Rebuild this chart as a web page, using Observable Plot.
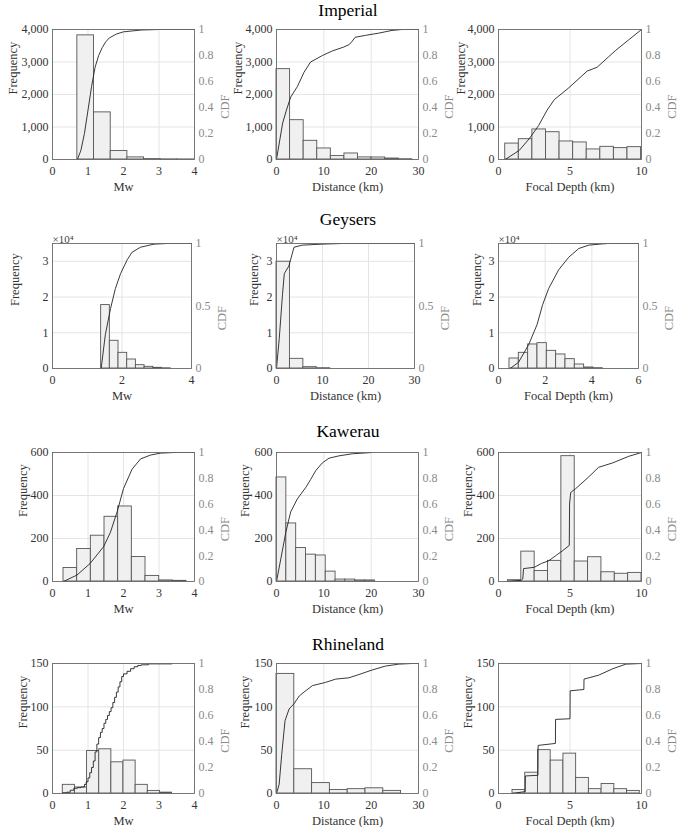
<!DOCTYPE html>
<html><head><meta charset="utf-8">
<script src="https://cdn.jsdelivr.net/npm/d3@7"></script>
<script src="https://cdn.jsdelivr.net/npm/@observablehq/plot@0.6"></script>
<style>
body{margin:0;background:#fff;font-family:'Liberation Serif',serif}
#fig{position:relative;width:685px;height:827px;overflow:hidden}
.ttl{position:absolute;left:0;width:696px;text-align:center;font-size:17.5px;line-height:1;color:#000}
#fig svg{position:absolute;overflow:visible}
</style></head><body><div id="fig"></div><script>
// ---- ticks ----
const mwTicks = [0,1,2,3,4];
const mwTicksG = [0,2,4];
const distTicks = [0,10,20,30];
const depthTicks = [0,5,10];
const depthTicksG = [0,2,4,6];
const freqTicksImp = [0,1000,2000,3000,4000];
const freqTicksGey = [0,10000,20000,30000];
const freqTicksKaw = [0,200,400,600];
const freqTicksRhi = [0,50,100,150];
const cdfTicks = [0,0.2,0.4,0.6,0.8,1];
const cdfTicksG = [0,0.5,1];
const titles = ["Imperial","Geysers","Kawerau","Rhineland"];

// ---- Imperial ----
const impMwEdges = [0.70,1.17,1.64,2.11,2.58,3.05,3.52,3.99];
const impMwCounts = [3820,1450,260,65,12,4,2];
const impMwCdfX = [0.70,0.80,0.90,1.00,1.10,1.20,1.30,1.40,1.50,1.60,1.80,2.00,2.50,3.00,4.00];
const impMwCdfY = [0,0.07,0.20,0.38,0.56,0.71,0.80,0.86,0.905,0.935,0.965,0.982,0.996,1,1];
const impDistEdges = [0,2.87,5.74,8.61,11.48,14.35,17.22,20.09,22.96,25.83,28.7];
const impDistCounts = [2780,1210,575,340,105,185,65,62,30,8];
const impDistCdfX = [0,1.3,2.1,3.0,4.4,5.8,7.2,9.7,11.8,14.2,15.4,16.0,16.6,18.8,21.6,24.4,26.5,30];
const impDistCdfY = [0,0.28,0.38,0.48,0.56,0.67,0.75,0.80,0.835,0.865,0.885,0.91,0.94,0.955,0.972,0.993,1,1];
const impDepthEdges = [0.47,1.42,2.37,3.32,4.27,5.22,6.17,7.12,8.07,9.02,9.97];
const impDepthCounts = [490,625,925,840,555,525,310,390,350,380];
const impDepthCdfX = [0.47,1.45,2.15,2.8,3.4,3.9,4.9,5.7,6.2,6.9,7.7,8.2,9.1,10];
const impDepthCdfY = [0,0.07,0.16,0.26,0.38,0.46,0.55,0.63,0.68,0.71,0.79,0.84,0.92,1];

// ---- Geysers ----
const geyMwEdges = [1.40,1.65,1.90,2.15,2.40,2.65,2.90,3.15,3.40];
const geyMwCounts = [17760,7760,4390,2520,930,470,190,60];
const geyMwCdfX = [1.40,1.52,1.67,1.81,1.96,2.15,2.29,2.53,2.92,3.3,4];
const geyMwCdfY = [0,0.27,0.48,0.64,0.76,0.87,0.93,0.97,0.995,1,1];
const geyDistEdges = [0,2.92,5.84,8.76,11.68];
const geyDistCounts = [29900,2710,370,80];
const geyDistCdfX = [0,0.6,1.3,1.7,2.7,3.8,5.6,9.9,14.3,30];
const geyDistCdfY = [0,0.24,0.59,0.76,0.82,0.97,0.987,0.995,1,1];
const geyDepthEdges = [0.47,0.87,1.27,1.67,2.07,2.47,2.87,3.27,3.67,4.07,4.47];
const geyDepthCounts = [2800,4390,6730,7100,4950,3930,2620,1120,280,90];
const geyDepthCdfX = [0.5,0.86,1.29,1.65,1.89,2.15,2.58,3.01,3.44,3.87,4.45,4.7,6];
const geyDepthCdfY = [0,0.05,0.19,0.35,0.51,0.64,0.79,0.89,0.96,0.987,0.997,1,1];

// ---- Kawerau ----
const kawMwEdges = [0.31,0.695,1.08,1.465,1.85,2.235,2.62,3.005,3.39,3.775];
const kawMwCounts = [63,151,213,301,349,114,26,5,3];
const kawMwCdfX = [0.31,0.69,1.06,1.44,1.63,1.82,2.0,2.24,2.48,2.76,3.04,3.42,4];
const kawMwCdfY = [0,0.05,0.14,0.27,0.38,0.54,0.72,0.87,0.95,0.98,0.995,1,1];
const kawDistEdges = [0,2.08,4.16,6.24,8.32,10.4,12.48,14.56,16.64,18.72,20.8];
const kawDistCounts = [484,270,156,125,121,46,9,9,5,5];
const kawDistCdfX = [0,0.91,1.96,3.0,4.4,6.2,7.2,8.3,9.7,11.1,13.2,16,20.2];
const kawDistCdfY = [0,0.175,0.38,0.54,0.64,0.73,0.79,0.86,0.92,0.956,0.974,0.99,1];
const kawDepthEdges = [0.66,1.594,2.528,3.462,4.396,5.33,6.264,7.198,8.132,9.066,10];
const kawDepthCounts = [6,139,49,96,583,93,113,43,36,40];
const kawDepthCdfX = [0.66,1.6,1.7,1.75,2.5,3.0,3.5,4.0,4.5,4.95,4.97,5.05,5.4,6.3,7.0,8.0,9.1,10];
const kawDepthCdfY = [0,0.01,0.02,0.1,0.11,0.14,0.16,0.2,0.24,0.28,0.6,0.69,0.72,0.81,0.885,0.92,0.97,1];

// ---- Rhineland ----
const rhiMwEdges = [0.29,0.632,0.974,1.316,1.658,2.0,2.342,2.684,3.026,3.368];
const rhiMwCounts = [10,7,49,51,36,38,10,3,1];
const rhiMwCdfX = [0.29,0.4,0.5,0.6,0.7,0.8,0.9,0.95,1.0,1.05,1.1,1.15,1.2,1.25,1.3,1.35,1.4,1.45,1.5,1.55,1.6,1.65,1.7,1.75,1.8,1.85,1.9,1.95,2.0,2.1,2.2,2.3,2.4,2.5,2.7,3.37];
const rhiMwCdfY = [0.005,0.01,0.025,0.04,0.045,0.05,0.07,0.09,0.12,0.16,0.2,0.25,0.32,0.38,0.43,0.47,0.5,0.54,0.57,0.6,0.63,0.66,0.7,0.74,0.78,0.82,0.86,0.9,0.92,0.94,0.96,0.975,0.985,0.99,0.997,1];
const rhiDistEdges = [0,3.76,7.52,11.28,15.04,18.8,22.56,26.32];
const rhiDistCounts = [138,28,12,4,5,6,3];
const rhiDistCdfX = [0,0.56,1.1,1.8,2.66,3.7,4.8,5.8,7.6,10.4,12.5,15.3,17.4,20.2,23,25.8,28.6,30];
const rhiDistCdfY = [0,0.07,0.3,0.56,0.65,0.69,0.75,0.78,0.83,0.855,0.88,0.89,0.915,0.95,0.98,0.995,1,1];
const rhiDepthEdges = [0.98,1.87,2.76,3.65,4.54,5.43,6.32,7.21,8.10,8.99,9.88];
const rhiDepthCounts = [4,24,50,38,46,18,5,11,5,3];
const rhiDepthCdfX = [0.98,1.87,1.88,2.76,2.77,3.98,3.99,5.0,5.01,5.97,5.98,7.0,8.0,8.9,10];
const rhiDepthCdfY = [0,0.015,0.135,0.14,0.37,0.385,0.57,0.575,0.79,0.80,0.88,0.91,0.96,0.995,1];

const panels = [
  {row:0,fx:[52,194],xdom:[0,4],xt:mwTicks,xl:"Mw",e:impMwEdges,c:impMwCounts,cx:impMwCdfX,cy:impMwCdfY,ymax:4000,yt:freqTicksImp,ct:cdfTicks,ld:40},
  {row:0,fx:[276,418],xdom:[0,30],xt:distTicks,xl:"Distance (km)",e:impDistEdges,c:impDistCounts,cx:impDistCdfX,cy:impDistCdfY,ymax:4000,yt:freqTicksImp,ct:cdfTicks,ld:39},
  {row:0,fx:[498,641],xdom:[0,10],xt:depthTicks,xl:"Focal Depth (km)",e:impDepthEdges,c:impDepthCounts,cx:impDepthCdfX,cy:impDepthCdfY,ymax:4000,yt:freqTicksImp,ct:cdfTicks,ld:38},
  {row:1,fx:[52,191],xdom:[0,4],xt:mwTicksG,xl:"Mw",e:geyMwEdges,c:geyMwCounts,cx:geyMwCdfX,cy:geyMwCdfY,ymax:35000,yt:freqTicksGey,ct:cdfTicksG,ld:38,exp:true},
  {row:1,fx:[276,414],xdom:[0,30],xt:distTicks,xl:"Distance (km)",e:geyDistEdges,c:geyDistCounts,cx:geyDistCdfX,cy:geyDistCdfY,ymax:35000,yt:freqTicksGey,ct:cdfTicksG,ld:23,exp:true},
  {row:1,fx:[498,638],xdom:[0,6],xt:depthTicksG,xl:"Focal Depth (km)",e:geyDepthEdges,c:geyDepthCounts,cx:geyDepthCdfX,cy:geyDepthCdfY,ymax:35000,yt:freqTicksGey,ct:cdfTicksG,ld:22,exp:true},
  {row:2,fx:[52,194],xdom:[0,4],xt:mwTicks,xl:"Mw",e:kawMwEdges,c:kawMwCounts,cx:kawMwCdfX,cy:kawMwCdfY,ymax:600,yt:freqTicksKaw,ct:cdfTicks,ld:30},
  {row:2,fx:[276,418],xdom:[0,30],xt:distTicks,xl:"Distance (km)",e:kawDistEdges,c:kawDistCounts,cx:kawDistCdfX,cy:kawDistCdfY,ymax:600,yt:freqTicksKaw,ct:cdfTicks,ld:32},
  {row:2,fx:[498,641],xdom:[0,10],xt:depthTicks,xl:"Focal Depth (km)",e:kawDepthEdges,c:kawDepthCounts,cx:kawDepthCdfX,cy:kawDepthCdfY,ymax:600,yt:freqTicksKaw,ct:cdfTicks,ld:31},
  {row:3,fx:[52,194],xdom:[0,4],xt:mwTicks,xl:"Mw",e:rhiMwEdges,c:rhiMwCounts,cx:rhiMwCdfX,cy:rhiMwCdfY,ymax:150,yt:freqTicksRhi,ct:cdfTicks,ld:30,step:true},
  {row:3,fx:[276,418],xdom:[0,30],xt:distTicks,xl:"Distance (km)",e:rhiDistEdges,c:rhiDistCounts,cx:rhiDistCdfX,cy:rhiDistCdfY,ymax:150,yt:freqTicksRhi,ct:cdfTicks,ld:32},
  {row:3,fx:[498,641],xdom:[0,10],xt:depthTicks,xl:"Focal Depth (km)",e:rhiDepthEdges,c:rhiDepthCounts,cx:rhiDepthCdfX,cy:rhiDepthCdfY,ymax:150,yt:freqTicksRhi,ct:cdfTicks,ld:31}
];
const rowFy = [[29,159],[243,368],[452,581],[663,793]];
const titleTop = [2,211,423,636];

const FONT = "'Liberation Serif', serif";
const fig = document.getElementById("fig");
titles.forEach((t,i)=>{
  const d = document.createElement("div");
  d.className = "ttl"; d.style.top = titleTop[i]+"px"; d.textContent = t;
  d.style.setProperty("font-family", FONT, "important");
  d.style.setProperty("font-weight", "normal", "important");
  fig.appendChild(d);
});

const ml = 54, mr = 40, mt = 22, mb = 44;
const dark = "#333", light = "#8a8a8a", grid = "#e4e4e4";
for (const o of panels) {
  const fy = rowFy[o.row];
  const w = o.fx[1]-o.fx[0], h = fy[1]-fy[0];
  const bins = o.c.map((v,i)=>({x1:o.e[i], x2:o.e[i+1], y1:0, y2:v}));
  const cdf = o.cx.map((x,i)=>({x, y:o.cy[i]*o.ymax}));
  const ymax = o.ymax;
  const marks = [
    Plot.gridX(o.xt, {stroke:grid, strokeOpacity:1}),
    Plot.gridY(o.yt, {stroke:grid, strokeOpacity:1}),
    Plot.rect(bins, {x1:"x1", x2:"x2", y1:"y1", y2:"y2", fill:"#f0f0f0", stroke:"#555", strokeWidth:0.9}),
    Plot.line(cdf, {x:"x", y:"y", stroke:"#222", strokeWidth:0.9, curve: o.step ? "step-after" : "linear"}),
    Plot.frame({stroke:"#6a6a6a", strokeWidth:0.9}),
    Plot.axisX(o.xt, {tickSize:0, tickPadding:7, label:null, fill:dark, fontSize:12}),
    Plot.axisY(o.yt, {anchor:"left", tickSize:0, tickPadding:4, label:null, fill:dark, fontSize:12,
      tickFormat: o.exp ? (d => String(d/10000)) : (d => d3.format(",")(d))}),
    Plot.axisY(o.ct.map(t=>t*ymax), {anchor:"right", tickSize:0, tickPadding:4, label:null, fill:light, fontSize:12,
      tickFormat: d => String(Math.round(d/ymax*100)/100)}),
    Plot.text([o.xl], {text:d=>d, frameAnchor:"bottom", dy:27, lineAnchor:"middle", fill:dark, fontSize:12.5}),
    Plot.text(["Frequency"], {text:d=>d, frameAnchor:"left", dx:-o.ld, rotate:-90, lineAnchor:"middle", fill:dark, fontSize:12.5}),
    Plot.text(["CDF"], {text:d=>d, frameAnchor:"right", dx:30, rotate:-90, lineAnchor:"middle", fill:light, fontSize:12.5})
  ];
  if (o.exp) marks.push(Plot.text(["×10⁴"], {text:d=>d, frameAnchor:"top-left", textAnchor:"start", lineAnchor:"bottom", dy:-1, fill:"#444", fontSize:11}));
  const svg = Plot.plot({
    width: w+ml+mr, height: h+mt+mb,
    marginLeft: ml, marginRight: mr, marginTop: mt, marginBottom: mb,
    style: {background:"transparent", fontSize:"12px", overflow:"visible", maxWidth:"none"},
    x: {domain:o.xdom}, y: {domain:[0,ymax]},
    marks
  });
  svg.setAttribute("font-family", FONT);
  svg.style.setProperty("font-family", FONT, "important");
  svg.querySelectorAll("text, g").forEach(n => n.style.setProperty("font-family", FONT, "important"));
  svg.style.left = (o.fx[0]-ml)+"px";
  svg.style.top = (fy[0]-mt)+"px";
  fig.appendChild(svg);
}
</script></body></html>
